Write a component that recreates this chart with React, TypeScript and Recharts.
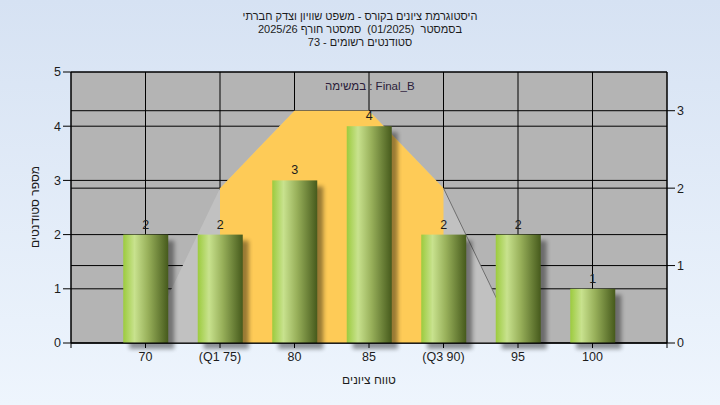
import { ComposedChart, Bar, Area, XAxis, YAxis, CartesianGrid, LabelList } from 'recharts'

const GRADE_LABELS = ['70', '(Q1 75)', '80', '85', '(Q3 90)', '95', '100']
const COUNTS = [2, 2, 3, 4, 2, 2, 1]
// bell shape on the right axis, and its Q1-Q3 part
const CURVE = [0, 2, 3, 3, 2, 0, 0]
const MIDDLE = [null, 2, 3, 3, 2, null, null]
const EDGE = [null, null, null, null, 2, 0, null]
const X_TICKS = [0, 1, 2, 3, 4, 5, 6, 7, 8]
const LEFT_TICKS = [0, 1, 2, 3, 4, 5]
const RIGHT_TICKS = [0, 1, 2, 3]

const TITLE_LINES = [
  'היסטוגרמת ציונים בקורס - משפט שוויון וצדק חברתי',
  'בסמסטר  (01/2025)  סמסטר חורף 2025/26',
  'סטודנטים רשומים - 73',
]
const LEGEND_TEXT = 'במשימה : Final_B'
const Y_TITLE = 'מספר סטודנטים'
const X_TITLE = 'טווח ציונים'

const FONT = '"Liberation Sans", Arial, sans-serif'
const TXT = '#1c1c1c'

const data = COUNTS.map((c, i) => ({
  pos: i + 1,
  count: c,
  curve: CURVE[i],
  middle: MIDDLE[i],
  edge: EDGE[i],
}))

function CylinderBar(props: any) {
  const { x, y, width, height } = props
  if (!height || height <= 0) return null
  return (
    <g>
      <rect x={x + 6} y={y + 6} width={width} height={height} fill="#000" opacity={0.4} filter="url(#barShadow)" />
      <rect x={x} y={y} width={width} height={height} fill="url(#barGrad)" />
    </g>
  )
}

const tickStyle = { fontSize: 12.5, fill: TXT, fontFamily: FONT }

export default function App() {
  return (
    <div style={{
      position: 'absolute', left: 0, top: 0, width: 720, height: 405,
      background: 'linear-gradient(to bottom, #d6e2f3, #eef5fd)', fontFamily: FONT, color: TXT,
    }}>
      <div style={{ position: 'absolute', top: 10, left: 0, width: 720, textAlign: 'center', fontSize: 11, lineHeight: '13px', direction: 'rtl', whiteSpace: 'pre' }}>
        {TITLE_LINES.map((t) => <div key={t}>{t}</div>)}
      </div>

      <ComposedChart width={720} height={405} data={data} margin={{ top: 72, right: 0, bottom: 32, left: 0 }}>
        <defs>
          <linearGradient id="barGrad" x1="0" y1="0" x2="1" y2="0">
            <stop offset="0%" stopColor="#9ccb3e" />
            <stop offset="25%" stopColor="#c8e28e" />
            <stop offset="55%" stopColor="#98b05a" />
            <stop offset="100%" stopColor="#465a1c" />
          </linearGradient>
          <filter id="barShadow" x="-30%" y="-30%" width="160%" height="160%">
            <feGaussianBlur stdDeviation="2" />
          </filter>
        </defs>
        <CartesianGrid yAxisId="left" stroke="#000" strokeOpacity={1} fill="#b4b4b4" fillOpacity={1} />
        <CartesianGrid yAxisId="right" stroke="#000" strokeOpacity={1} vertical={false} />
        <XAxis dataKey="pos" type="number" domain={[0, 8]} ticks={X_TICKS} interval={0}
          tickFormatter={(v: number) => GRADE_LABELS[v - 1] ?? ''}
          stroke="#000" tickSize={5} tickMargin={4} tick={tickStyle} height={30} />
        <YAxis yAxisId="left" domain={[0, 5]} ticks={LEFT_TICKS} interval={0} width={71}
          stroke="#000" tickSize={8} tickMargin={2} tick={tickStyle} />
        <YAxis yAxisId="right" orientation="right" domain={[0, 3.5]} ticks={RIGHT_TICKS} interval={0} width={53}
          stroke="#000" tickSize={8} tickMargin={2} tick={tickStyle} />
        <Area yAxisId="right" type="linear" dataKey="curve" fill="#c1c1c1" fillOpacity={1} stroke="none"
          dot={false} activeDot={false} isAnimationActive={false} />
        <Area yAxisId="right" type="linear" dataKey="middle" fill="#fecb57" fillOpacity={1} stroke="none"
          dot={false} activeDot={false} isAnimationActive={false} />
        <Area yAxisId="right" type="linear" dataKey="edge" fill="none" stroke="#6f6f6f" strokeWidth={1}
          dot={false} activeDot={false} isAnimationActive={false} />
        <Bar yAxisId="left" dataKey="count" barSize={45} shape={CylinderBar} isAnimationActive={false}>
          <LabelList dataKey="count" position="top" offset={6} fill={TXT} fontSize={12.5} fontFamily={FONT} />
        </Bar>
      </ComposedChart>

      <div style={{ position: 'absolute', left: 325, top: 79, fontSize: 11.5, lineHeight: '14px', color: '#2b1d3a', whiteSpace: 'nowrap' }}>
        {LEGEND_TEXT}
      </div>
      <div style={{ position: 'absolute', left: 35, top: 207, transform: 'translate(-50%, -50%) rotate(-90deg)', fontSize: 12, whiteSpace: 'nowrap', direction: 'rtl' }}>
        {Y_TITLE}
      </div>
      <div style={{ position: 'absolute', left: 369, top: 380, transform: 'translate(-50%, -50%)', fontSize: 12, whiteSpace: 'nowrap', direction: 'rtl' }}>
        {X_TITLE}
      </div>
    </div>
  )
}
